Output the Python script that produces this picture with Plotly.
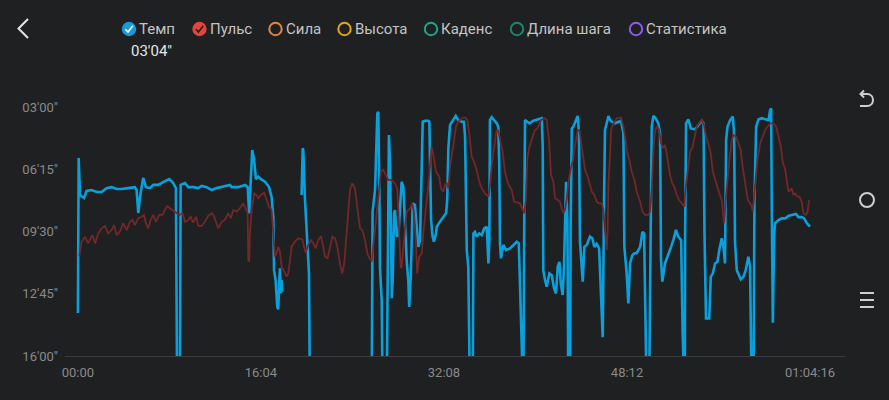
import plotly.graph_objects as go

# elapsed time (s) and pace (s per km) -- values past 960 run off the bottom of the chart
pace_t = [0, 4, 11, 32, 46, 72, 99, 125, 151, 178,
          204, 230, 265, 300, 309, 318, 327, 344, 358, 379,
          397, 423, 449, 481, 502, 516, 523, 537, 541, 564,
          581, 607, 634, 652, 678, 705, 731, 757, 783, 801,
          810, 845, 880, 894, 902, 911, 918, 927, 938, 950,
          964, 985, 1006, 1020, 1029, 1033, 1041, 1050, 1055, 1061,
          1064, 1069, 1073, 1076, 1127, 1178, 1184, 1187, 1196, 1210,
          1217, 1222, 1547, 1552, 1565, 1577, 1582, 1587, 1591, 1600,
          1605, 1626, 1631, 1638, 1644, 1649, 1653, 1658, 1665, 1670,
          1679, 1688, 1696, 1705, 1714, 1723, 1732, 1740, 1745, 1753,
          1763, 1775, 1784, 1793, 1802, 1811, 1816, 1828, 1845, 1851,
          1854, 1860, 1868, 1875, 1886, 1890, 1907, 1924, 1939, 1945,
          1951, 1960, 1977, 1990, 2003, 2021, 2033, 2039, 2048, 2056,
          2065, 2079, 2083, 2091, 2100, 2114, 2127, 2140, 2153, 2162,
          2167, 2170, 2179, 2192, 2206, 2214, 2219, 2223, 2228, 2241,
          2255, 2276, 2297, 2311, 2322, 2328, 2337, 2346, 2350, 2355,
          2367, 2378, 2399, 2425, 2443, 2448, 2451, 2460, 2469, 2483,
          2495, 2508, 2518, 2527, 2536, 2543, 2553, 2560, 2571, 2578,
          2583, 2592, 2595, 2601, 2609, 2622, 2632, 2639, 2644, 2653,
          2659, 2667, 2680, 2697, 2709, 2720, 2732, 2745, 2755, 2764,
          2771, 2776, 2785, 2794, 2803, 2812, 2829, 2846, 2860, 2873,
          2878, 2890, 2899, 2908, 2920, 2931, 2943, 2961, 2973, 2982,
          2991, 2996, 3008, 3017, 3022, 3031, 3043, 3057, 3066, 3071,
          3078, 3092, 3110, 3124, 3136, 3150, 3162, 3177, 3185, 3192,
          3196, 3198, 3203, 3215, 3228, 3251, 3268, 3286, 3295, 3300,
          3308, 3325, 3333, 3344, 3356, 3368, 3378, 3391, 3400, 3408,
          3414, 3421, 3435, 3449, 3456, 3461, 3470, 3482, 3491, 3505,
          3517, 3531, 3540, 3549, 3558, 3563, 3572, 3584, 3602, 3625,
          3637, 3646, 3651, 3654, 3660, 3667, 3672, 3690, 3707, 3724,
          3742, 3760, 3782, 3795, 3812, 3825, 3839, 3856]
pace_s = [825, 340, 456, 465, 443, 440, 446, 446, 434, 431,
          437, 437, 434, 431, 440, 512, 462, 402, 431, 434,
          424, 424, 415, 406, 418, 434, 1100, 1100, 424, 418,
          431, 431, 434, 427, 431, 440, 434, 431, 427, 424,
          431, 431, 424, 430, 513, 367, 315, 341, 406, 398,
          406, 414, 430, 461, 524, 691, 722, 806, 814, 722,
          685, 764, 722, 759, None, 456, 309, 315, 471, 607,
          701, 1100, 1100, 508, 440, 200, 195, 409, 685, 785,
          1100, 1100, 722, 268, 356, 638, 779, 722, 513, 503,
          586, 581, 492, 414, 430, 565, 665, 722, 806, 712,
          482, 487, 544, 618, 597, 356, 226, 223, 223, 226,
          356, 534, 586, 602, 576, 555, 539, 524, 513, 471,
          309, 236, 221, 208, 221, 226, 226, 273, 628, 680,
          1100, 1100, 576, 571, 586, 576, 581, 560, 555, 670,
          597, 221, 212, 221, 231, 242, 356, 607, 654, 612,
          628, 623, 612, 602, 607, 816, 1100, 1100, 607, 221,
          226, 231, 223, 219, 215, 304, 691, 722, 743, 701,
          706, 748, 764, 680, 665, 732, 769, 680, 414, 534,
          1100, 1100, 555, 247, 242, 223, 208, 262, 597, 680,
          727, 618, 612, 586, 591, 618, 609, 623, 753, 901,
          471, 252, 231, 208, 221, 226, 231, 226, 223, 262,
          618, 701, 795, 670, 644, 638, 638, 618, 571, 576,
          785, 1100, 1100, 471, 242, 208, 215, 231, 262, 659,
          727, 670, 644, 618, 597, 565, 586, 597, 889, 1100,
          1100, 576, 231, 219, 247, 250, 236, 223, 231, 576,
          842, 842, 712, 701, 670, 665, 628, 591, 618, 670,
          283, 242, 221, 210, 262, 607, 691, 706, 720, 712,
          691, 649, 680, 1100, 1100, 471, 242, 219, 215, 219,
          221, 189, 184, 471, 856, 576, 544, 534, 529, 529,
          521, 518, 515, 525, 525, 529, 544, 555]

# heart rate (bpm)
hr_t = [7, 19, 37, 54, 67, 77, 90, 107, 125, 142,
        160, 178, 190, 204, 221, 239, 257, 274, 288, 300,
        318, 336, 348, 358, 370, 383, 397, 411, 428, 446,
        458, 470, 485, 499, 516, 534, 551, 564, 581, 594,
        607, 622, 634, 652, 669, 686, 705, 716, 731, 739,
        757, 774, 792, 806, 818, 836, 853, 871, 883, 894,
        897, 902, 906, 915, 929, 941, 950, 964, 981, 994,
        1006, 1020, 1029, 1038, 1047, 1055, 1064, 1073, 1087, 1099,
        1108, 1117, 1126, 1143, 1161, 1182, 1192, 1199, 1210, 1227,
        1240, 1252, 1266, 1280, 1292, 1301, 1315, 1328, 1340, 1354,
        1366, 1380, 1392, 1403, 1415, 1424, 1433, 1445, 1459, 1473,
        1486, 1498, 1512, 1526, 1538, 1547, 1561, 1574, 1586, 1596,
        1608, 1623, 1635, 1653, 1670, 1682, 1693, 1700, 1705, 1714,
        1723, 1732, 1749, 1761, 1770, 1781, 1787, 1798, 1811, 1819,
        1833, 1845, 1854, 1863, 1875, 1886, 1903, 1912, 1924, 1933,
        1942, 1951, 1960, 1969, 1981, 1991, 2003, 2021, 2039, 2051,
        2061, 2074, 2086, 2100, 2114, 2127, 2144, 2162, 2170, 2179,
        2192, 2202, 2209, 2219, 2227, 2237, 2249, 2262, 2272, 2285,
        2297, 2314, 2328, 2343, 2350, 2360, 2367, 2378, 2390, 2399,
        2407, 2420, 2439, 2460, 2469, 2481, 2492, 2504, 2513, 2527,
        2539, 2548, 2557, 2565, 2574, 2583, 2597, 2609, 2614, 2623,
        2632, 2641, 2650, 2659, 2671, 2685, 2697, 2706, 2720, 2732,
        2745, 2759, 2767, 2776, 2785, 2790, 2794, 2803, 2808, 2820,
        2838, 2860, 2873, 2882, 2890, 2902, 2917, 2931, 2943, 2961,
        2973, 2987, 3004, 3013, 3022, 3031, 3036, 3043, 3052, 3061,
        3071, 3083, 3092, 3101, 3110, 3118, 3131, 3141, 3154, 3166,
        3180, 3194, 3198, 3210, 3224, 3238, 3251, 3259, 3273, 3286,
        3298, 3308, 3320, 3333, 3344, 3356, 3368, 3378, 3391, 3403,
        3412, 3421, 3431, 3444, 3452, 3466, 3479, 3491, 3501, 3508,
        3519, 3528, 3540, 3549, 3554, 3561, 3572, 3579, 3593, 3607,
        3619, 3632, 3646, 3663, 3677, 3690, 3702, 3713, 3724, 3733,
        3742, 3760, 3768, 3777, 3789, 3800, 3812, 3821, 3834, 3843,
        3851]
hr_bpm = [108, 115, 117.5, 114.3, 116.7, 118.3, 114.3, 119.1, 121.5, 122.7,
          119.1, 120.7, 123.1, 118.3, 119.9, 124, 120.7, 124.7, 125.6, 123.1,
          126.4, 127.1, 128, 124, 121.5, 125.6, 128, 124.7, 128, 128,
          130.4, 132.3, 131.2, 130.4, 129.1, 128, 128.8, 124.7, 125.6, 127.1,
          124.3, 127.1, 122.7, 122.7, 124.7, 127.5, 128.8, 127.5, 123.6, 121.5,
          124.7, 125.6, 128.8, 126.4, 130.4, 129.6, 131.2, 133.6, 131.2, 128.8,
          106.3, 105.5, 119.1, 130.4, 138.4, 137.6, 136, 137.6, 138.7, 135.2,
          132, 130.4, 120.7, 107.9, 109.5, 112.7, 110.3, 103, 100.6, 98.2,
          99.8, 106.3, 112.7, 115.1, 116.7, 116.2, 111.9, 109.8, 112.7, 115.9,
          114.3, 111.9, 115.9, 117.8, 112.7, 107.9, 107.1, 111.9, 117.5, 116.7,
          112.7, 104.6, 99.8, 104.6, 119.1, 127.1, 140, 143.2, 140.8, 130.4,
          121.5, 120.7, 115.9, 108.7, 107.1, 105.5, 117.5, 130.4, 141.6, 148.8,
          149.7, 147.2, 144.8, 144.8, 143.2, 140.8, 119.1, 103, 102.3, 114.3,
          122.3, 129.6, 131.2, 133.6, 128.8, 112.7, 99.8, 107.9, 109.5, 119.1,
          130.4, 141.6, 151.2, 160.9, 155.3, 148.8, 146.4, 140.8, 139.2, 142.4,
          143.5, 140.8, 151.2, 156.1, 164.1, 170.5, 172.9, 174.5, 175, 173.8,
          167.3, 156.1, 153.7, 149.7, 144, 140.8, 138.4, 136.8, 141.6, 151.2,
          160.1, 167.3, 169.3, 166.5, 162.5, 158.5, 148.8, 144, 141.9, 140,
          134.4, 133.9, 133.6, 130.4, 128.8, 135.2, 155.3, 160.9, 164.1, 167.3,
          168.9, 169.7, 173.8, 174.6, 173.8, 164.1, 147.2, 144, 136, 135.2,
          134.4, 131.2, 128.8, 130.4, 135.2, 143.2, 151.2, 154.5, 159.3, 164.1,
          168.9, 168.9, 162.5, 156.1, 149.7, 146.4, 141.6, 139.2, 137.6, 134.4,
          133.6, 133.6, 130.4, 120.7, 111.1, 120.7, 143.2, 157.7, 168.9, 172.1,
          174.6, 175, 170.5, 165.7, 159.3, 155.3, 148.8, 144.8, 139.2, 134.4,
          129.6, 128, 128, 129.6, 140, 158.5, 165.7, 169.7, 170.5, 168.9,
          162.5, 160.1, 161.7, 157.7, 151.2, 147.2, 143.2, 141.6, 137.6, 135.2,
          133.6, 132, 138.4, 148, 158.5, 160.9, 166.5, 170.5, 172.4, 173.8,
          171.3, 165.7, 162.5, 157.7, 148.8, 144.8, 140.8, 138.4, 135.2, 124,
          135.2, 144.8, 154.5, 164.1, 166.5, 165.7, 162.5, 159.3, 151.2, 146.4,
          140.8, 135.2, 133.6, 132, 129.6, 136.8, 146.4, 154.5, 162.5, 165.7,
          168.9, 170.5, 172.1, 172.1, 170.5, 165.7, 160.9, 152.9, 150.4, 144.8,
          139.2, 140.8, 137.6, 138.4, 136.8, 136.8, 134.4, 128.8, 128, 129.6,
          135.2]

x_ticks = [0, 964, 1928, 2892, 3856]
x_labels = ["00:00", "16:04", "32:08", "48:12", "01:04:16"]
y_ticks = [180, 375, 570, 765, 960]
y_labels = ["03'00\"", "06'15\"", "09'30\"", "12'45\"", "16'00\""]

legend_names = ["Темп", "Пульс", "Сила", "Высота", "Каденс", "Длина шага", "Статистика"]
legend_colors = ["#1a9ad8", "#e2463b", "#e8843a", "#e6a417", "#1fa58a", "#168a6e", "#8b5cf0"]
legend_on = [True, True, False, False, False, False, False]
current_pace = "03'04\""

assert len(pace_t) == len(pace_s) and len(hr_t) == len(hr_bpm)

W, H = 889, 400
L, R, T, B = 65, 44, 100, 44
BG = "#1f2022"


def px(x):
    return (x - L) / (W - L - R)


def py(y):
    return (H - B - y) / (H - T - B)


fig = go.Figure()
fig.add_trace(go.Scatter(x=hr_t, y=hr_bpm, yaxis="y2", mode="lines",
                         line=dict(color="#722729", width=1.8), hoverinfo="skip"))
fig.add_trace(go.Scatter(x=pace_t, y=pace_s, mode="lines",
                         line=dict(color="#0aa0dc", width=2.6), hoverinfo="skip"))

shapes = []
annotations = []

# legend row
icon_x = [129, 199.5, 275.5, 344.5, 431, 517, 636]
for cx, name, col, on in zip(icon_x, legend_names, legend_colors, legend_on):
    r = 7.2
    cy = 29
    if on:
        shapes.append(dict(type="circle", xref="paper", yref="paper",
                           x0=px(cx - r), x1=px(cx + r), y0=py(cy + r), y1=py(cy - r),
                           fillcolor=col, line=dict(width=0)))
        chk = "#ffffff" if name == "Темп" else "#2a1a1a"
        path = "M {} {} L {} {} L {} {}".format(px(cx - 3.6), py(cy + 0.2), px(cx - 1), py(cy + 3),
                                                 px(cx + 3.8), py(cy - 3.2))
        shapes.append(dict(type="path", xref="paper", yref="paper", path=path,
                           line=dict(color=chk, width=1.6)))
    else:
        shapes.append(dict(type="circle", xref="paper", yref="paper",
                           x0=px(cx - r + 1), x1=px(cx + r - 1), y0=py(cy + r - 1), y1=py(cy - r + 1),
                           line=dict(color=col, width=2)))
    annotations.append(dict(text=name, xref="paper", yref="paper", x=px(cx + 8), y=py(cy),
                            xanchor="left", yanchor="middle", showarrow=False,
                            font=dict(size=15, color="#c4c4c4")))

annotations.append(dict(text=current_pace, xref="paper", yref="paper", x=px(151), y=py(51),
                        xanchor="center", yanchor="middle", showarrow=False,
                        font=dict(size=15, color="#e6e6e6")))

# back chevron
shapes.append(dict(type="path", xref="paper", yref="paper",
                   path="M {} {} L {} {} L {} {}".format(px(28), py(19), px(18.5), py(28.5), px(28), py(38)),
                   line=dict(color="#e4e4e4", width=2)))

# right side icons
ic = "#cfcfcf"
shapes.append(dict(type="circle", xref="paper", yref="paper",
                   x0=px(860), x1=px(874), y0=py(207), y1=py(193), line=dict(color=ic, width=2)))
for yy in [293, 300, 307]:
    shapes.append(dict(type="line", xref="paper", yref="paper",
                       x0=px(860), x1=px(874), y0=py(yy), y1=py(yy), line=dict(color=ic, width=2)))
shapes.append(dict(type="path", xref="paper", yref="paper",
                   path="M {} {} L {} {} C {} {} {} {} {} {} L {} {}".format(
                       px(861), py(94), px(867), py(94), px(875), py(94), px(875), py(106),
                       px(867), py(106), px(860), py(106)),
                   line=dict(color=ic, width=2)))
shapes.append(dict(type="path", xref="paper", yref="paper",
                   path="M {} {} L {} {} L {} {}".format(px(864), py(90.5), px(860.5), py(94),
                                                        px(864), py(97.5)),
                   line=dict(color=ic, width=2)))

fig.update_layout(
    width=W, height=H,
    margin=dict(l=L, r=R, t=T, b=B),
    paper_bgcolor=BG, plot_bgcolor=BG,
    showlegend=False,
    font=dict(family="Roboto", color="#8c8c8c"),
    xaxis=dict(range=[-68, 4040], tickvals=x_ticks, ticktext=x_labels,
               showgrid=False, zeroline=False, showline=True, linecolor="#3a3b3e", linewidth=1,
               ticks="", tickfont=dict(size=13, color="#8a8a8a"), ticklabelstandoff=4),
    yaxis=dict(range=[960, 158], tickvals=y_ticks, ticktext=y_labels,
               showgrid=False, zeroline=False, showline=False,
               ticks="", tickfont=dict(size=13, color="#8a8a8a"), ticklabelstandoff=6),
    yaxis2=dict(range=[60, 183.4], overlaying="y", side="right", visible=False),
    shapes=shapes,
    annotations=annotations,
)

fig.write_html("out.html", config={"displayModeBar": False},
               post_script="document.body.style.margin='0';document.body.style.background='" + BG + "';")
